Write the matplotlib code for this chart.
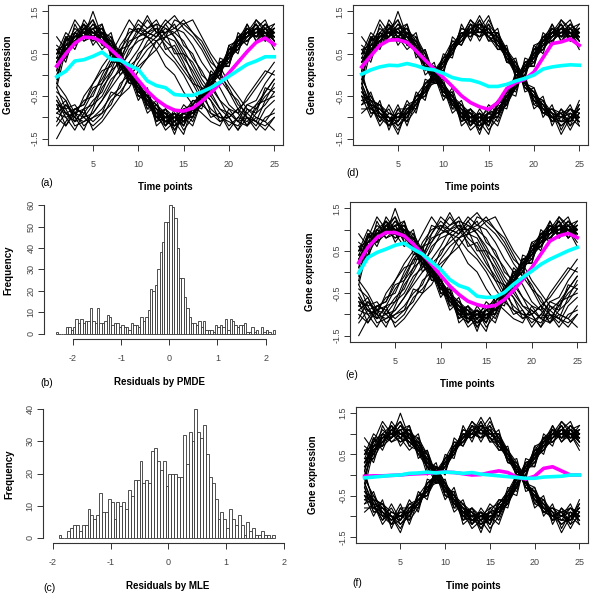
import numpy as np
import matplotlib
matplotlib.use('Agg')
import matplotlib.pyplot as plt

plt.rcParams['font.family'] = ['Liberation Sans', 'DejaVu Sans']
plt.rcParams['axes.unicode_minus'] = False

# time axis
time = list(range(1, 26))

# in-phase genes (peak near t=5 and t=24)
group_p = [
    [0.2, 0.7, 0.8, 1.1, 1.0, 0.8, 0.7, 0.3, 0.1, -0.4, -0.5, -0.9, -1.1, -1.0, -0.9, -0.9, -0.5, -0.3, 0.2, 0.4, 0.8, 0.9, 1.1, 0.9, 1.0],
    [0.4, 0.5, 1.0, 0.9, 1.2, 1.0, 0.6, 0.4, -0.1, -0.2, -0.7, -0.8, -0.9, -1.2, -1.1, -0.8, -0.6, -0.1, 0.1, 0.5, 0.7, 1.0, 0.9, 1.1, 0.8],
    [0.1, 0.8, 0.9, 1.0, 0.9, 1.1, 0.5, 0.2, 0.1, -0.3, -0.6, -1.0, -1.0, -0.9, -1.2, -0.7, -0.4, -0.3, 0.2, 0.3, 0.8, 1.0, 1.1, 1.0, 0.9],
    [0.5, 0.6, 0.7, 1.2, 1.0, 0.9, 0.8, 0.5, 0.0, -0.4, -0.5, -0.7, -1.1, -1.1, -0.9, -1.0, -0.6, -0.2, 0.0, 0.6, 0.7, 0.8, 1.0, 1.2, 1.0],
    [0.3, 0.7, 1.1, 0.9, 1.1, 0.8, 0.6, 0.3, 0.2, -0.2, -0.6, -0.9, -0.8, -1.0, -1.1, -0.8, -0.5, -0.1, 0.3, 0.4, 0.9, 1.0, 0.9, 0.9, 1.1],
    [0.0, 0.6, 0.9, 1.0, 1.3, 0.9, 0.7, 0.2, -0.1, -0.3, -0.7, -0.9, -1.0, -1.3, -1.0, -0.9, -0.7, -0.2, 0.1, 0.5, 0.6, 1.1, 1.0, 1.0, 0.7],
    [0.6, 0.7, 0.8, 1.1, 0.9, 1.0, 0.5, 0.4, 0.0, -0.2, -0.5, -0.8, -1.2, -1.0, -0.8, -0.7, -0.5, -0.3, 0.2, 0.5, 0.8, 0.9, 1.2, 0.8, 1.0],
    [0.2, 0.5, 1.0, 0.8, 1.0, 0.9, 0.8, 0.3, 0.1, -0.5, -0.6, -1.0, -0.9, -1.1, -1.0, -0.9, -0.4, -0.1, 0.1, 0.3, 0.7, 1.0, 1.0, 1.1, 0.9],
    [0.4, 0.9, 0.9, 1.0, 1.1, 0.7, 0.6, 0.4, 0.1, -0.3, -0.8, -0.8, -1.0, -0.9, -1.2, -0.8, -0.6, -0.2, 0.0, 0.6, 0.9, 0.9, 1.1, 1.0, 0.8],
    [0.3, 0.6, 0.8, 1.0, 1.0, 1.1, 0.7, 0.2, -0.1, -0.3, -0.5, -0.9, -1.1, -1.2, -0.9, -0.8, -0.6, -0.3, 0.3, 0.4, 0.7, 1.1, 0.9, 1.2, 1.0],
    [-0.1, 0.7, 0.9, 1.2, 0.9, 0.8, 0.6, 0.5, 0.0, -0.4, -0.6, -0.7, -1.0, -1.0, -1.0, -1.0, -0.5, -0.2, 0.2, 0.5, 0.8, 0.8, 1.0, 1.0, 1.1],
    [0.5, 0.8, 1.0, 0.9, 1.5, 0.9, 0.8, 0.3, 0.2, -0.2, -0.7, -0.9, -0.9, -1.1, -1.4, -0.7, -0.4, 0.0, 0.1, 0.4, 0.8, 1.0, 1.2, 0.9, 0.9],
    [0.2, 0.4, 0.8, 1.1, 1.0, 1.0, 0.7, 0.3, 0.0, -0.3, -0.6, -1.1, -1.0, -0.9, -1.0, -0.9, -0.7, -0.2, 0.2, 0.5, 0.6, 0.9, 1.0, 1.1, 0.8],
    [0.9, 0.6, 0.9, 1.0, 0.8, 0.9, 0.6, 0.4, 0.1, -0.4, -0.5, -0.8, -1.1, -1.0, -1.1, -0.8, -0.5, -0.1, 0.1, 0.4, 0.9, 1.1, 0.9, 1.0, 1.0],
    [0.3, 0.7, 0.7, 0.9, 1.1, 1.2, 0.6, 0.2, -0.2, -0.2, -0.6, -1.0, -0.8, -1.1, -0.9, -1.1, -0.6, -0.3, 0.2, 0.6, 0.7, 1.0, 1.3, 1.0, 0.9],
    [0.6, 0.3, 1.0, 1.2, 0.7, 1.0, 0.9, 0.1, 0.3, -0.5, -0.4, -1.1, -0.8, -1.3, -0.9, -0.6, -0.7, 0.1, -0.1, 0.7, 0.5, 1.2, 0.8, 1.1, 1.2],
    [-0.2, 0.9, 0.6, 1.1, 1.3, 0.7, 0.9, 0.5, -0.2, -0.1, -0.8, -0.6, -1.2, -0.9, -1.3, -1.0, -0.3, -0.4, 0.3, 0.2, 1.0, 0.8, 1.1, 1.3, 0.8],
    [0.4, 0.4, 1.2, 0.8, 0.9, 1.2, 0.4, 0.6, 0.0, -0.6, -0.3, -1.0, -1.2, -0.8, -1.1, -0.7, -0.8, 0.0, 0.1, 0.6, 0.6, 0.9, 1.2, 0.8, 1.1],
    [0.1, 0.9, 0.7, 1.3, 1.0, 0.8, 1.0, 0.2, 0.2, -0.3, -0.9, -0.7, -0.9, -1.4, -0.8, -1.0, -0.4, -0.5, 0.4, 0.3, 0.8, 1.2, 0.8, 1.0, 0.6],
    [0.7, 0.5, 0.9, 0.9, 1.2, 0.9, 0.5, 0.6, -0.1, -0.4, -0.4, -1.2, -1.0, -1.0, -1.2, -0.6, -0.6, -0.1, 0.0, 0.5, 0.9, 0.7, 1.3, 1.1, 1.0],
    [0.3, 0.8, 1.3, 1.0, 0.8, 1.0, 0.7, 0.0, 0.2, -0.2, -0.7, -0.9, -1.3, -1.1, -0.7, -0.9, -0.5, -0.2, 0.3, 0.4, 0.6, 1.0, 1.0, 0.9, 1.2],
    [-0.3, 0.6, 0.8, 0.9, 1.1, 1.1, 0.8, 0.4, 0.1, -0.5, -0.6, -0.8, -0.9, -1.2, -1.0, -1.2, -0.6, 0.0, 0.0, 0.7, 0.8, 1.1, 0.9, 1.2, 0.9],
    [0.5, 1.0, 0.8, 1.1, 0.9, 0.6, 0.8, 0.3, -0.1, -0.2, -0.5, -1.0, -1.1, -0.9, -1.1, -0.8, -0.7, -0.3, 0.2, 0.2, 0.9, 0.9, 1.1, 0.8, 1.0],
]

# anti-phase genes (panels d, f)
group_n = [
    [-0.2, -0.7, -0.8, -1.0, -1.1, -0.8, -0.6, -0.4, 0.0, 0.3, 0.6, 0.9, 1.0, 1.1, 0.9, 0.8, 0.5, 0.2, -0.2, -0.5, -0.7, -0.9, -1.0, -1.1, -0.9],
    [-0.6, -0.5, -0.9, -1.1, -0.9, -1.0, -0.7, -0.3, -0.1, 0.2, 0.7, 0.8, 1.2, 1.0, 1.0, 0.9, 0.6, 0.1, -0.1, -0.6, -0.8, -1.0, -0.9, -0.8, -1.0],
    [-0.4, -0.8, -1.0, -0.8, -1.2, -0.9, -0.5, -0.4, 0.1, 0.4, 0.5, 1.0, 0.9, 1.2, 1.1, 0.7, 0.4, 0.3, -0.3, -0.4, -0.9, -0.8, -1.1, -1.0, -0.7],
    [0.0, -0.6, -0.7, -1.0, -1.0, -0.7, -0.8, -0.2, 0.0, 0.3, 0.6, 0.9, 1.1, 0.9, 1.0, 1.0, 0.5, 0.2, -0.2, -0.5, -0.6, -1.1, -1.0, -0.9, -1.1],
    [-0.7, -0.6, -0.9, -1.2, -0.9, -0.9, -0.6, -0.5, -0.1, 0.2, 0.8, 0.8, 1.0, 1.3, 0.8, 0.8, 0.6, 0.1, -0.1, -0.7, -0.8, -0.9, -1.2, -1.0, -0.8],
    [-0.3, -0.9, -0.8, -1.0, -1.4, -0.8, -0.7, -0.3, 0.0, 0.4, 0.6, 1.1, 1.0, 1.0, 1.2, 0.9, 0.3, 0.2, -0.3, -0.4, -0.7, -1.0, -0.9, -1.3, -0.9],
    [-0.5, -0.7, -1.1, -0.9, -1.0, -1.0, -0.5, -0.4, 0.1, 0.1, 0.7, 0.9, 1.3, 1.1, 0.9, 0.7, 0.5, 0.0, -0.2, -0.5, -0.9, -0.8, -1.0, -0.9, -1.0],
    [-0.1, -0.5, -0.8, -1.1, -1.0, -0.9, -0.7, -0.2, -0.1, 0.3, 0.5, 1.0, 0.9, 1.2, 1.0, 1.0, 0.6, 0.3, -0.1, -0.6, -0.7, -1.0, -1.1, -1.1, -0.8],
    [-0.8, -0.8, -0.9, -1.0, -1.1, -0.7, -0.6, -0.3, 0.0, 0.2, 0.6, 0.8, 1.1, 1.0, 1.1, 0.8, 0.4, 0.1, -0.2, -0.4, -0.8, -1.1, -0.8, -1.0, -1.2],
    [-0.4, -0.6, -1.0, -1.2, -0.8, -0.8, -0.6, -0.4, 0.1, 0.3, 0.7, 1.0, 1.0, 0.9, 1.3, 0.9, 0.5, 0.2, -0.3, -0.5, -0.6, -0.9, -1.0, -0.8, -0.9],
    [-0.2, -0.8, -0.7, -0.9, -1.0, -1.1, -0.8, -0.3, -0.2, 0.4, 0.5, 0.9, 1.2, 1.1, 0.9, 0.6, 0.6, 0.0, -0.1, -0.6, -0.9, -1.0, -1.2, -1.0, -1.0],
    [-0.6, -0.7, -0.8, -1.0, -1.2, -1.0, -0.5, -0.5, 0.0, 0.2, 0.6, 0.8, 1.0, 1.4, 1.0, 0.8, 0.4, 0.2, -0.2, -0.3, -0.8, -0.8, -0.9, -1.1, -0.6],
    [-0.5, -1.0, -0.6, -1.3, -0.8, -1.1, -0.4, -0.6, 0.2, 0.0, 0.9, 0.7, 1.2, 0.8, 1.2, 0.6, 0.7, -0.1, 0.0, -0.7, -0.5, -1.2, -0.8, -1.2, -0.7],
    [0.1, -0.7, -1.1, -0.7, -1.1, -0.6, -0.9, -0.1, -0.2, 0.5, 0.4, 1.2, 0.8, 1.3, 0.9, 1.1, 0.3, 0.4, -0.4, -0.3, -1.0, -0.7, -1.3, -0.9, -1.1],
    [-0.7, -0.4, -1.0, -1.0, -1.3, -0.9, -0.5, -0.2, 0.0, 0.4, 0.8, 0.7, 1.1, 1.2, 0.8, 1.0, 0.4, 0.0, -0.2, -0.6, -0.7, -1.1, -1.0, -0.7, -1.2],
    [-0.3, -0.9, -0.9, -1.1, -0.7, -1.2, -0.6, -0.5, 0.2, 0.1, 0.6, 1.1, 1.0, 0.9, 1.1, 0.7, 0.6, 0.2, -0.3, -0.5, -0.8, -0.9, -1.4, -1.0, -0.8],
    [-0.5, -0.6, -0.7, -1.2, -1.1, -0.8, -0.8, -0.2, -0.1, 0.3, 0.7, 0.9, 1.3, 1.0, 1.0, 0.9, 0.3, 0.3, -0.1, -0.8, -0.6, -1.0, -0.9, -1.2, -1.0],
    [-0.9, -0.7, -1.2, -0.9, -1.0, -0.9, -0.7, -0.4, 0.1, 0.2, 0.5, 1.0, 0.9, 1.1, 1.4, 0.8, 0.5, 0.1, -0.2, -0.4, -0.9, -1.0, -1.1, -0.8, -1.1],
]

# phase-shifted genes (panels a, e)
group_q = [
    [-0.8, -0.9, -1.1, -0.8, -0.4, -0.1, 0.3, 0.6, 0.9, 1.2, 1.0, 1.1, 0.8, 0.6, 0.2, -0.1, -0.5, -0.8, -1.0, -1.1, -1.2, -0.9, -0.7, -0.4, -0.1],
    [-0.6, -1.0, -0.9, -1.0, -0.9, -0.6, -0.2, 0.2, 0.5, 0.9, 1.0, 1.2, 1.1, 0.9, 0.5, 0.3, -0.1, -0.4, -0.8, -0.9, -1.1, -1.0, -1.2, -0.8, -0.6],
    [-1.5, -1.1, -0.8, -0.7, -0.2, 0.1, 0.2, 0.7, 1.0, 1.1, 0.9, 0.8, 0.5, 0.3, 0.0, -0.4, -0.7, -0.9, -1.1, -1.0, -0.8, -0.6, -0.3, 0.0, 0.3],
    [-0.7, -0.8, -1.2, -1.1, -1.0, -0.8, -0.5, -0.3, 0.2, 0.4, 0.8, 1.0, 1.3, 1.1, 1.0, 0.7, 0.3, 0.0, -0.3, -0.7, -0.9, -1.2, -1.0, -1.1, -0.8],
    [-0.9, -0.7, -1.0, -1.3, -0.8, -0.3, 0.0, 0.4, 0.8, 0.9, 1.1, 1.3, 0.9, 0.8, 0.4, 0.1, -0.3, -0.6, -0.9, -1.2, -1.0, -1.1, -0.8, -0.5, -0.3],
    [-0.5, -0.9, -0.8, -0.9, -1.1, -0.9, -0.7, -0.2, 0.0, 0.5, 0.7, 0.9, 1.2, 1.4, 1.1, 0.9, 0.6, 0.2, -0.1, -0.4, -0.8, -1.0, -1.3, -1.0, -0.9],
    [-1.0, -1.2, -0.9, -0.6, -0.5, 0.0, 0.4, 0.5, 1.1, 1.0, 1.3, 1.0, 0.7, 0.4, 0.1, -0.2, -0.6, -1.0, -0.9, -1.3, -1.0, -0.7, -0.6, -0.2, 0.1],
    [-0.8, -0.6, -1.1, -1.0, -0.7, -0.5, -0.1, 0.1, 0.6, 0.8, 0.9, 1.1, 1.0, 1.2, 0.7, 0.5, 0.0, -0.2, -0.6, -0.8, -1.1, -1.2, -0.9, -0.7, -0.4],
    [-0.3, -0.8, -0.7, -1.0, -1.2, -1.0, -0.6, -0.4, -0.1, 0.3, 0.6, 0.8, 1.0, 1.1, 1.3, 1.0, 0.8, 0.4, 0.0, -0.3, -0.7, -0.9, -1.1, -1.2, -1.0],
    [-0.9, -1.0, -1.3, -0.9, -0.6, -0.4, 0.1, 0.3, 0.7, 1.1, 1.0, 0.9, 1.2, 0.9, 0.6, 0.2, -0.2, -0.5, -0.8, -1.0, -1.3, -1.0, -1.1, -0.6, -0.2],
    [-0.6, -0.9, -1.0, -0.5, -0.2, 0.2, 0.5, 0.9, 1.3, 1.0, 0.9, 0.6, 0.2, 0.0, -0.4, -0.7, -0.9, -1.1, -1.2, -0.8, -0.9, -0.5, -0.2, 0.1, 0.0],
    [-1.1, -0.7, -0.9, -1.2, -1.0, -0.9, -0.4, -0.5, 0.0, 0.2, 0.4, 0.8, 0.9, 1.3, 1.2, 1.0, 0.7, 0.3, 0.1, -0.4, -0.6, -1.0, -1.1, -1.3, -1.0],
    [-0.7, -1.2, -0.8, -0.7, -0.3, -0.2, 0.3, 0.3, 0.9, 1.3, 1.1, 1.2, 0.6, 0.7, 0.3, -0.2, -0.3, -0.9, -1.0, -1.0, -1.3, -0.8, -0.9, -0.3, -0.4],
    [-0.4, -0.6, -1.0, -1.1, -0.9, -0.6, -0.3, 0.0, 0.3, 0.6, 1.0, 0.9, 1.1, 1.0, 0.8, 0.4, 0.1, -0.3, -0.6, -1.0, -0.8, -1.2, -0.7, -0.6, -0.5],
    [-1.2, -0.9, -1.1, -0.8, -0.7, -0.2, 0.1, 0.6, 0.7, 1.0, 1.4, 1.0, 1.0, 0.5, 0.5, 0.0, -0.4, -0.6, -1.1, -0.9, -1.1, -0.7, -0.8, -0.4, -0.1],
    [-0.2, -0.5, -0.9, -0.8, -1.3, -1.1, -0.8, -0.5, -0.3, 0.1, 0.4, 0.6, 0.9, 1.0, 1.2, 1.3, 0.9, 0.5, 0.2, -0.2, -0.5, -0.8, -1.0, -1.1, -1.3],
]

# fitted curves
magenta_a = [0.21, 0.5, 0.75, 0.89, 0.88, 0.78, 0.6, 0.4, 0.15, -0.12, -0.38, -0.58, -0.73, -0.83, -0.85, -0.78, -0.62, -0.42, -0.2, 0.05, 0.3, 0.55, 0.77, 0.87, 0.72]
cyan_a = [-0.04, 0.09, 0.33, 0.36, 0.44, 0.54, 0.37, 0.35, 0.23, 0.13, -0.14, -0.25, -0.3, -0.46, -0.48, -0.48, -0.4, -0.3, -0.17, -0.03, 0.11, 0.25, 0.33, 0.43, 0.43]
magenta_d = [0.19, 0.45, 0.7, 0.82, 0.83, 0.77, 0.57, 0.35, 0.14, -0.06, -0.27, -0.49, -0.65, -0.75, -0.81, -0.65, -0.32, -0.18, -0.1, 0.07, 0.41, 0.74, 0.78, 0.85, 0.7]
cyan_d = [0.02, 0.12, 0.19, 0.23, 0.22, 0.27, 0.22, 0.15, 0.12, 0.04, -0.06, -0.11, -0.12, -0.18, -0.27, -0.27, -0.22, -0.14, -0.08, 0.0, 0.14, 0.19, 0.22, 0.24, 0.23]
magenta_e = [0.22, 0.58, 0.81, 0.93, 0.93, 0.85, 0.66, 0.42, 0.18, -0.08, -0.33, -0.53, -0.69, -0.77, -0.82, -0.79, -0.65, -0.43, -0.18, 0.1, 0.42, 0.73, 0.85, 0.91, 0.81]
cyan_e = [-0.02, 0.34, 0.46, 0.54, 0.63, 0.68, 0.54, 0.42, 0.24, 0.06, -0.18, -0.32, -0.39, -0.57, -0.6, -0.59, -0.48, -0.29, -0.13, 0.02, 0.18, 0.3, 0.4, 0.5, 0.58]
magenta_f = [-0.03, -0.02, -0.02, -0.01, 0.0, 0.02, 0.03, 0.04, 0.06, 0.07, 0.06, 0.03, 0.0, 0.01, 0.06, 0.1, 0.06, -0.05, -0.1, -0.03, 0.16, 0.2, 0.1, 0.0, 0.0]
cyan_f = [-0.07, -0.05, -0.03, -0.01, 0.0, 0.04, 0.05, 0.07, 0.05, 0.07, 0.06, 0.04, 0.06, 0.02, 0.0, -0.02, -0.04, -0.06, -0.08, -0.08, -0.05, -0.04, -0.03, 0.0, 0.0]

# histogram counts, bin width 0.05
bin_width = 0.05
pmde_start = -2.35
pmde_counts = [1, 0, 0, 0, 3, 3, 2, 3, 7, 5, 7, 5, 6, 6, 12, 6, 5, 12, 5, 5, 6, 9, 8, 4,
               5, 5, 3, 4, 3, 3, 2, 5, 4, 4, 3, 8, 6, 8, 11, 21, 20, 23, 30, 38, 43, 52, 52,
               60, 59, 54, 40, 26, 26, 17, 12, 8, 5, 5, 4, 6, 3, 6, 2, 2, 2, 1, 4, 3, 4, 3,
               7, 2, 7, 6, 4, 3, 4, 4, 5, 1, 1, 3, 1, 2, 0, 3, 1, 2, 1, 0, 2]
mle_start = -1.90
mle_counts = [1, 0, 0, 2, 3, 4, 4, 2, 4, 4, 9, 7, 6, 7, 14, 8, 8, 12, 11, 6,
              11, 10, 11, 9, 15, 13, 18, 18, 24, 17, 18, 17, 27, 28, 24, 21, 24, 16, 20, 20,
              20, 19, 19, 32, 23, 33, 30, 40, 33, 31, 35, 26, 19, 17, 12, 6, 8, 6, 3, 9,
              6, 4, 7, 4, 1, 5, 2, 3, 1, 1, 2, 1, 1, 0, 1]

line_ticks = [-1.5, -1.0, -0.5, 0.0, 0.5, 1.0, 1.5]
line_tick_labels = ['-1.5', '', '-0.5', '', '0.5', '', '1.5']
time_ticks = [5, 10, 15, 20, 25]

axis_col = '#333333'
tick_col = '#444444'

fig = plt.figure(figsize=(6, 6), dpi=100)


def px(left, top, right, bottom):
    return [left / 600, 1 - bottom / 600, (right - left) / 600, (bottom - top) / 600]


def style_ticks(ax):
    ax.tick_params(axis='both', direction='out', length=4, width=0.7,
                   colors=axis_col, labelcolor=tick_col, labelsize=6.5)
    ax.tick_params(axis='x', pad=7)
    ax.tick_params(axis='y', pad=2)
    for lab in ax.get_yticklabels():
        lab.set_rotation(90)
        lab.set_va('center')


def line_panel(rect, groups, magenta, cyan):
    ax = fig.add_axes(rect)
    for grp in groups:
        for row in grp:
            ax.plot(time, row, color='black', lw=0.8)
    ax.plot(time, magenta, color='#ff00ff', lw=2.6)
    ax.plot(time, cyan, color='#00ffff', lw=2.6)
    ax.set_xlim(0.04, 25.96)
    ax.set_ylim(-1.65, 1.65)
    ax.set_xticks(time_ticks)
    ax.set_yticks(line_ticks)
    ax.set_yticklabels(line_tick_labels)
    for sp in ax.spines.values():
        sp.set_color(axis_col)
        sp.set_linewidth(0.8)
    style_ticks(ax)
    return ax


def hist_panel(rect, start, counts, xlim, ymax, ystep):
    ax = fig.add_axes(rect)
    edges = start + bin_width * np.arange(len(counts) + 1)
    ax.bar(edges[:-1], counts, width=bin_width, align='edge', color='white',
           edgecolor='#333333', linewidth=0.6)
    ax.set_xlim(*xlim)
    ax.set_ylim(-ymax * 0.04, ymax * 1.04)
    ax.set_xticks([-2, -1, 0, 1, 2])
    ax.set_yticks(np.arange(0, ymax + 1, ystep))
    ax.spines['top'].set_visible(False)
    ax.spines['right'].set_visible(False)
    ax.spines['bottom'].set_bounds(-2, 2)
    ax.spines['left'].set_bounds(0, ymax)
    for sp in ('left', 'bottom'):
        ax.spines[sp].set_color(axis_col)
        ax.spines[sp].set_linewidth(0.8)
    style_ticks(ax)
    return ax


line_panel(px(48, 5, 283, 145), [group_p, group_q], magenta_a, cyan_a)
line_panel(px(353, 5, 588, 145), [group_p, group_n], magenta_d, cyan_d)
line_panel(px(350, 202, 586, 342), [group_p, group_q], magenta_e, cyan_e)
line_panel(px(356, 407, 588, 543), [group_p, group_n], magenta_f, cyan_f)

hist_panel(px(44, 200, 284, 339), pmde_start, pmde_counts, (-2.6, 2.38), 60, 10)
hist_panel(px(43, 404, 284, 543), mle_start, mle_counts, (-2.17, 2.0), 40, 10)

lab = dict(fontsize=7, fontweight='bold', ha='center', va='center')
tag = dict(fontsize=7.5, ha='center', va='center')


def fx(x):
    return x / 600


def fy(y):
    return 1 - y / 600


# x labels and panel tags
fig.text(fx(165), fy(187), 'Time points', **lab)
fig.text(fx(472), fy(187), 'Time points', **lab)
fig.text(fx(467), fy(384), 'Time points', **lab)
fig.text(fx(473), fy(586), 'Time points', **lab)
fig.text(fx(160), fy(382), 'Residuals by PMDE', **lab)
fig.text(fx(168), fy(586), 'Residuals by MLE', **lab)
fig.text(fx(47), fy(183), '(a)', **tag)
fig.text(fx(47), fy(383), '(b)', **tag)
fig.text(fx(49), fy(588), '(c)', **tag)
fig.text(fx(353), fy(173), '(d)', **tag)
fig.text(fx(352), fy(375), '(e)', **tag)
fig.text(fx(357), fy(583), '(f)', **tag)

# y labels
fig.text(fx(8), fy(75), 'Gene expression', rotation=90, **lab)
fig.text(fx(312), fy(75), 'Gene expression', rotation=90, **lab)
fig.text(fx(310), fy(272), 'Gene expression', rotation=90, **lab)
fig.text(fx(313), fy(475), 'Gene expression', rotation=90, **lab)
fig.text(fx(8), fy(270), 'Frequency', rotation=90, **lab)
fig.text(fx(9), fy(474), 'Frequency', rotation=90, **lab)

fig.savefig('out.png', dpi=100)
